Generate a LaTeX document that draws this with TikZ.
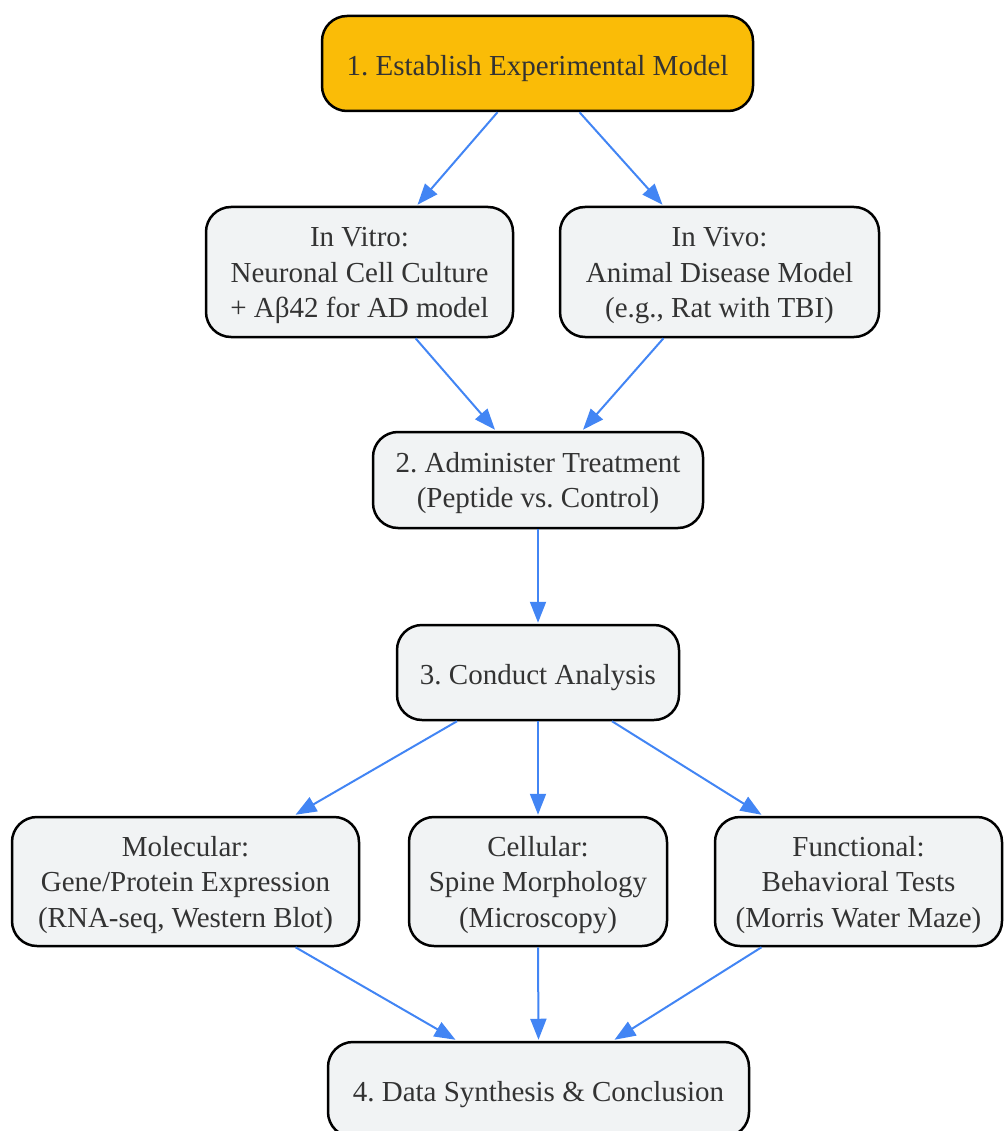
\documentclass[tikz,border=0pt]{standalone}
\usepackage{fontspec}
\setmainfont{Liberation Serif}
\usetikzlibrary{arrows.meta,calc}
\definecolor{gold}{HTML}{FABC07}
\definecolor{boxgray}{HTML}{F1F3F4}
\definecolor{arrowblue}{HTML}{4285F4}
\definecolor{txt}{HTML}{333333}
\newcommand\mystrut{\rule[-4pt]{0pt}{35pt}}
\newcommand\ml[1]{\raisebox{0pt}[\dimexpr\height+6pt\relax][\depth]{\begin{tabular}{@{}c@{}}#1\end{tabular}}}
\frenchspacing
\begin{document}
\begin{tikzpicture}[x=1pt,y=-1pt,
  box/.style={draw=black, line width=2.5pt, rounded corners=25pt, fill=boxgray, text=txt,
    inner sep=0pt, font=\fontsize{29}{35.5}\selectfont},
  single/.style={execute at begin node={\mystrut}, execute at end node={\mystrut}},
  conn/.style={draw=arrowblue, line width=2pt, -{Triangle[length=21pt,width=16pt]}}]
\useasboundingbox (0,0) rectangle (1004,1131);

\node[box, single, fill=gold, minimum width=431pt, minimum height=95pt] (n1) at (537.5,63.5) {1. Establish Experimental Model};
\node[box, minimum width=307pt, minimum height=130pt] (n2a) at (359.5,272) {\ml{In Vitro:\\Neuronal Cell Culture\\+ Aβ42 for AD model}};
\node[box, minimum width=319pt, minimum height=130pt] (n2b) at (719.5,272) {\ml{In Vivo:\\Animal Disease Model\\(e.g., Rat with TBI)}};
\node[box, minimum width=330pt, minimum height=96pt] (n3) at (538,480) {\ml{2. Administer Treatment\\(Peptide vs. Control)}};
\node[box, single, minimum width=282pt, minimum height=95pt] (n4) at (538,672.5) {3. Conduct Analysis};
\node[box, minimum width=347pt, minimum height=129pt] (n5a) at (185.5,881.5) {\ml{Molecular:\\Gene/Protein Expression\\(RNA-seq, Western Blot)}};
\node[box, minimum width=258pt, minimum height=129pt] (n5b) at (538,881.5) {\ml{Cellular:\\Spine Morphology\\(Microscopy)}};
\node[box, minimum width=287pt, minimum height=129pt] (n5c) at (858.5,881.5) {\ml{Functional:\\Behavioral Tests\\(Morris Water Maze)}};
\node[box, single, minimum width=421pt, minimum height=95pt] (n6) at (538.5,1089.5) {4. Data Synthesis \& Conclusion};

\draw[conn] ($(n1.south)+(-40,0)$) -- ($(n2a.north)+(58,-1)$);
\draw[conn] ($(n1.south)+(42,0)$) -- ($(n2b.north)+(-57,-1)$);
\draw[conn] ($(n2a.south)+(56,0)$) -- ($(n3.north)+(-43,-1)$);
\draw[conn] ($(n2b.south)+(-56,0)$) -- ($(n3.north)+(45,-1)$);
\draw[conn] (n3.south) -- ($(n4.north)+(0,-1)$);
\draw[conn] ($(n4.south)+(-81,0)$) -- ($(n5a.north)+(110,-1)$);
\draw[conn] (n4.south) -- ($(n5b.north)+(0,-1)$);
\draw[conn] ($(n4.south)+(74,0)$) -- ($(n5c.north)+(-97,-1)$);
\draw[conn] ($(n5a.south)+(110,0)$) -- ($(n6.north)+(-83,-1)$);
\draw[conn] (n5b.south) -- ($(n6.north)+(0,-1)$);
\draw[conn] ($(n5c.south)+(-97,0)$) -- ($(n6.north)+(76,-1)$);
\end{tikzpicture}
\end{document}
